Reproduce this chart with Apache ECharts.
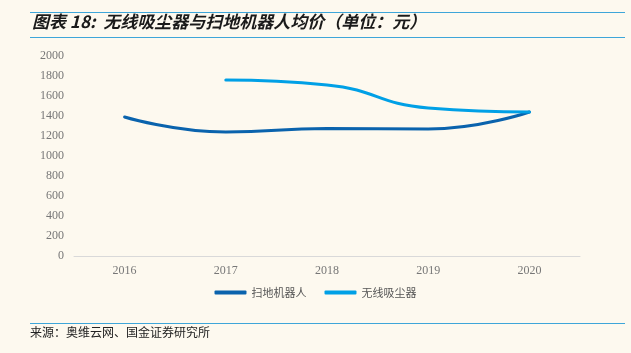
<!DOCTYPE html>
<html>
<head>
<meta charset="utf-8">
<script src="https://cdn.jsdelivr.net/npm/echarts@6/dist/echarts.min.js"></script>
<style>
  html, body { margin: 0; padding: 0; background: #fdf9ef; }
  #chart { width: 631px; height: 353px; }
</style>
</head>
<body>
<div id="chart"></div>
<script>
var years = ['2016', '2017', '2018', '2019', '2020'];
var robotPrice = [1390, 1240, 1275, 1270, 1440];
var vacuumPrice = [null, 1760, 1710, 1480, 1440];

var chart = echarts.init(document.getElementById('chart'));

var option = {
  backgroundColor: '#fdf9ef',
  graphic: [
    { type: 'rect', shape: { x: 30, y: 12, width: 595, height: 1 }, style: { fill: '#3ea6d9' } },
    { type: 'text', left: 32, top: 13, style: { text: '图表 18:  无线吸尘器与扫地机器人均价（单位：元）', font: 'italic bold 17px "Noto Sans CJK SC"', fill: '#1a1a1a' } },
    { type: 'rect', shape: { x: 30, y: 37, width: 595, height: 1 }, style: { fill: '#3ea6d9' } },
    { type: 'rect', shape: { x: 30, y: 323, width: 595, height: 1 }, style: { fill: '#3ea6d9' } },
    { type: 'text', left: 30, top: 326, style: { text: '来源：奥维云网、国金证券研究所', font: '12px "Noto Sans CJK SC"', fill: '#222' } }
  ],
  legend: {
    bottom: 50,
    left: 'center',
    itemWidth: 32,
    itemHeight: 4,
    itemGap: 18,
    icon: 'roundRect',
    textStyle: { color: '#555', fontFamily: 'Noto Sans CJK SC', fontSize: 11 },
    data: ['扫地机器人', '无线吸尘器']
  },
  grid: { left: 74, right: 51, top: 56, bottom: 97 },
  xAxis: {
    type: 'category',
    data: years,
    boundaryGap: true,
    axisLine: { lineStyle: { color: '#d9d9d9' } },
    axisTick: { lineStyle: { color: '#d9d9d9' } },
    axisLabel: { color: '#777', fontFamily: 'Liberation Serif', fontSize: 12, margin: 9 }
  },
  yAxis: {
    type: 'value',
    min: 0,
    max: 2000,
    interval: 200,
    axisLine: { show: false },
    axisTick: { show: false },
    splitLine: { show: false },
    axisLabel: { color: '#777', fontFamily: 'Liberation Serif', fontSize: 12, margin: 10, formatter: function (v) { return String(v); } }
  },
  series: [
    {
      name: '扫地机器人',
      type: 'line',
      smooth: 0.5,
      symbol: 'none',
      data: robotPrice,
      itemStyle: { color: '#0a63ad' },
      lineStyle: { width: 3, color: '#0a63ad', cap: 'round' }
    },
    {
      name: '无线吸尘器',
      type: 'line',
      smooth: 0.5,
      symbol: 'none',
      data: vacuumPrice,
      itemStyle: { color: '#00a0e6' },
      lineStyle: { width: 3, color: '#00a0e6', cap: 'round' }
    }
  ]
};

chart.setOption(option);
</script>
</body>
</html>
